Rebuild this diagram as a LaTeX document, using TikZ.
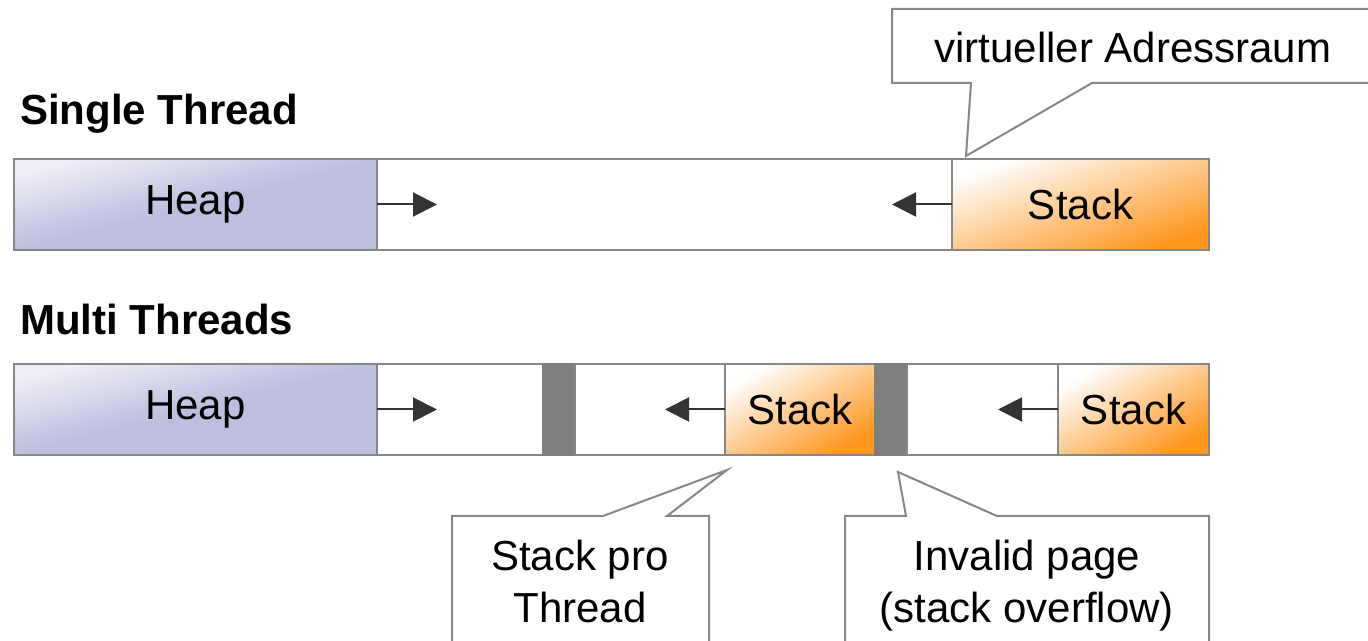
\documentclass[tikz,border=0pt]{standalone}
\usepackage{fontspec}
\setmainfont{Liberation Sans}
\usepackage{tikz}
\usetikzlibrary{arrows.meta,positioning,calc}

\definecolor{heapblue}{RGB}{190,190,224}
\definecolor{heaplight}{RGB}{238,238,246}
\definecolor{stackorange}{RGB}{255,150,30}
\definecolor{framegray}{RGB}{135,135,135}
\definecolor{guardgray}{RGB}{127,127,127}
\definecolor{arrowdark}{RGB}{51,51,51}

\begin{document}
\begin{tikzpicture}[
    x=0.75pt, y=-0.75pt,
    font=\fontsize{31.5}{39}\selectfont,
    seg/.style={rectangle, draw=framegray, line width=1.5pt, minimum height=68.25pt, inner sep=0pt, outer sep=0pt},
    heapseg/.style={seg, minimum width=272.25pt, top color=heaplight, bottom color=heapblue, middle color=heapblue, shading angle=14},
    stackseg/.style={seg, top color=white, bottom color=stackorange, shading angle=#1},
    stackseg/.default=20,
    guardseg/.style={seg, minimum width=24pt, fill=guardgray, draw=guardgray},
    rowtitle/.style={anchor=base west, inner sep=0pt, font=\fontsize{31.5}{39}\selectfont\bfseries},
    calloutbox/.style={draw=framegray, fill=white, line width=1.5pt},
    growarrow/.style={-{Triangle[length=18pt, width=18pt]}, draw=arrowdark, fill=arrowdark, line width=1.5pt},
]
    \useasboundingbox (0,0) rectangle (1368,641);

    \node[rowtitle] (lblsingle) at (20,125) {Single Thread};
    \node[heapseg, anchor=north west] (heapA) at (14,159) {Heap};
    \node[seg, minimum width=431.25pt, right=0pt of heapA] (freeA) {};
    \node[stackseg, minimum width=192.75pt, right=0pt of freeA] (stackA) {Stack};

    \draw[growarrow] (freeA.west) -- ($(freeA.west)+(60,0)$);
    \draw[growarrow] (stackA.west) -- ($(stackA.west)+(-60,0)$);

    \node[rowtitle] (lblmulti) at (20,335) {Multi Threads};
    \node[heapseg, anchor=north west] (heapB) at (14,364) {Heap};
    \node[seg, minimum width=124.5pt, right=0pt of heapB] (freeB1) {};
    \node[guardseg, right=0pt of freeB1] (guardB1) {};
    \node[seg, minimum width=112.5pt, right=0pt of guardB1] (freeB2) {};
    \node[stackseg=31, minimum width=112.5pt, right=0pt of freeB2] (stackB1) {Stack};
    \node[guardseg, right=0pt of stackB1] (guardB2) {};
    \node[seg, minimum width=113.25pt, right=0pt of guardB2] (freeB3) {};
    \node[stackseg=31, minimum width=113.25pt, right=0pt of freeB3] (stackB2) {Stack};

    \draw[growarrow] (freeB1.west) -- ($(freeB1.west)+(60,0)$);
    \draw[growarrow] (stackB1.west) -- ($(stackB1.west)+(-60,0)$);
    \draw[growarrow] (stackB2.west) -- ($(stackB2.west)+(-60,0)$);

    \path[calloutbox] (892,9) -- (1374,9) -- (1374,83) -- (1092,83) -- (966,156) -- (971,83) -- (892,83) -- cycle;
    \node[anchor=base, inner sep=0pt] (vas) at (1133,63) {virtueller Adressraum};

    \path[calloutbox] (452,660) -- (452,516) -- (603,516) -- (727,470) -- (667,516) -- (709,516) -- (709,660);
    \node[align=center, inner sep=0pt] (perthread) at (580,581) {Stack pro\\Thread};

    \path[calloutbox] (845,660) -- (845,516) -- (906,516) -- (898,472) -- (997,516) -- (1209,516) -- (1209,660);
    \node[align=center, inner sep=0pt] (guardpage) at (1027,586) {Invalid page\\(stack overflow)};
\end{tikzpicture}
\end{document}
